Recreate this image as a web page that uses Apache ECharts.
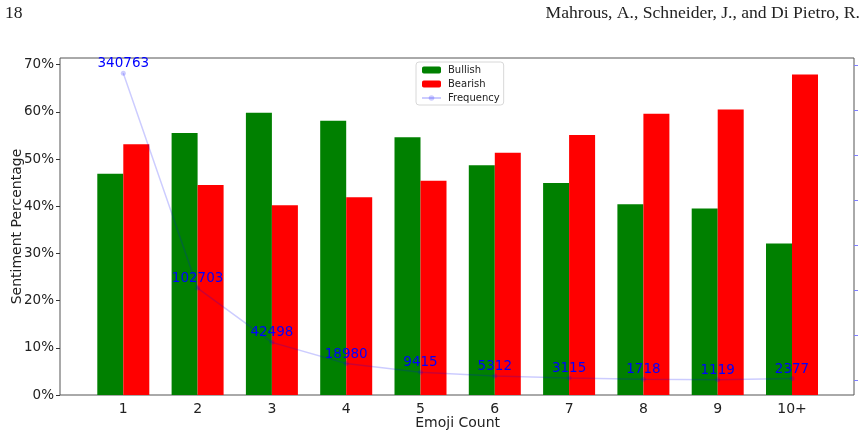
<!DOCTYPE html>
<html lang="en">
  <head>
    <meta charset="UTF-8" />
    <title>Emoji Count Sentiment</title>
    <script src="https://cdn.jsdelivr.net/npm/echarts@6.0.0/dist/echarts.min.js"></script>
    <style>
      html, body { margin: 0; padding: 0; background: #fff; }
    </style>
  </head>
  <body>
    <div id="main" style="width: 868px; height: 437px"></div>
    <script type="text/javascript">
      // values
      const categories = ['1', '2', '3', '4', '5', '6', '7', '8', '9', '10+'];
      const bullish = [46.9, 55.5, 59.8, 58.1, 54.6, 48.7, 44.9, 40.4, 39.5, 32.1];
      const bearish = [53.1, 44.5, 40.2, 41.9, 45.4, 51.3, 55.1, 59.6, 60.5, 67.9];
      const frequency = [340763, 102703, 42498, 18980, 9415, 5312, 3115, 1718, 1119, 2377];
      const pctTicks = [0, 10, 20, 30, 40, 50, 60, 70];
      const freqTicks = [0, 50000, 100000, 150000, 200000, 250000, 300000, 350000];

      const font = 'DejaVu Sans';
      const pctMax = 71.4;
      const freqMin = -15863, freqMax = 357745;

      let myChart = echarts.init(document.getElementById('main'));

      let options = {
        animation: false,
        textStyle: { fontFamily: font },
        graphic: [
          { type: 'text', left: 5, top: 4,
            style: { text: '18', font: '17.6px "Liberation Serif"', fill: '#222' } },
          { type: 'text', right: 8, top: 4,
            style: { text: 'Mahrous, A., Schneider, J., and Di Pietro, R.', font: '17.6px "Liberation Serif"', fill: '#222' } }
        ],
        legend: {
          orient: 'vertical',
          left: 416,
          top: 62,
          padding: [3, 4, 2, 5],
          itemWidth: 19,
          itemHeight: 7,
          itemGap: 4,
          borderColor: '#d8d8d8',
          borderWidth: 1,
          borderRadius: 3,
          textStyle: { fontSize: 10, color: '#222', fontFamily: font, padding: [0, 0, 0, 2] },
          data: ['Bullish', 'Bearish', 'Frequency']
        },
        grid: [
          { left: 60, right: 14, top: 58, bottom: 42, show: true, borderColor: '#555', borderWidth: 1,
            containLabel: false, outerBoundsMode: 'none' },
          { left: 86.15, right: 38.85, top: 58, bottom: 42, containLabel: false, outerBoundsMode: 'none' }
        ],
        xAxis: [
          { type: 'value', gridIndex: 0, min: 0, max: 1, show: false },
          {
            type: 'category',
            gridIndex: 1,
            data: categories,
            axisLine: { show: false },
            axisTick: { alignWithLabel: true, length: 4, lineStyle: { color: '#333' } },
            axisLabel: { fontSize: 14, color: '#222', margin: 7 },
            name: 'Emoji Count',
            nameLocation: 'middle',
            nameGap: 21,
            nameMoveOverlap: false,
            nameTextStyle: { fontSize: 14, color: '#222' }
          }
        ],
        yAxis: [
          {
            type: 'value',
            gridIndex: 0,
            min: 0,
            max: pctMax,
            splitLine: { show: false },
            axisLine: { show: false },
            axisTick: { show: true, length: 4, lineStyle: { color: '#333' }, customValues: pctTicks },
            axisLabel: { fontSize: 13.5, color: '#222', margin: 6, formatter: '{value}%', customValues: pctTicks },
            name: 'Sentiment Percentage',
            nameLocation: 'middle',
            nameGap: 36,
            nameMoveOverlap: false,
            nameTextStyle: { fontSize: 14, color: '#222' }
          },
          {
            type: 'value',
            gridIndex: 0,
            position: 'right',
            min: freqMin,
            max: freqMax,
            splitLine: { show: false },
            axisLine: { show: false },
            axisTick: { show: true, length: 4, lineStyle: { color: '#8080ff' }, customValues: freqTicks },
            axisLabel: { show: false }
          },
          { type: 'value', gridIndex: 1, min: 0, max: pctMax, show: false },
          { type: 'value', gridIndex: 1, min: freqMin, max: freqMax, show: false }
        ],
        series: [
          {
            name: 'Bullish',
            type: 'bar',
            xAxisIndex: 1,
            yAxisIndex: 2,
            data: bullish,
            barWidth: 26,
            barGap: '0%',
            itemStyle: { color: '#008000' }
          },
          {
            name: 'Bearish',
            type: 'bar',
            xAxisIndex: 1,
            yAxisIndex: 2,
            data: bearish,
            barWidth: 26,
            barGap: '0%',
            itemStyle: { color: '#ff0000' }
          },
          {
            name: 'Frequency',
            type: 'line',
            xAxisIndex: 1,
            yAxisIndex: 3,
            data: frequency,
            symbol: 'circle',
            symbolSize: 5,
            lineStyle: { color: 'rgba(0,0,255,0.2)', width: 1.5 },
            itemStyle: { color: 'rgba(0,0,255,0.2)' },
            label: {
              show: true,
              position: 'top',
              distance: 0,
              color: '#0000ff',
              fontSize: 13.5,
              fontFamily: font
            },
            z: 5
          }
        ]
      };

      myChart.setOption(options);
    </script>
  </body>
</html>
